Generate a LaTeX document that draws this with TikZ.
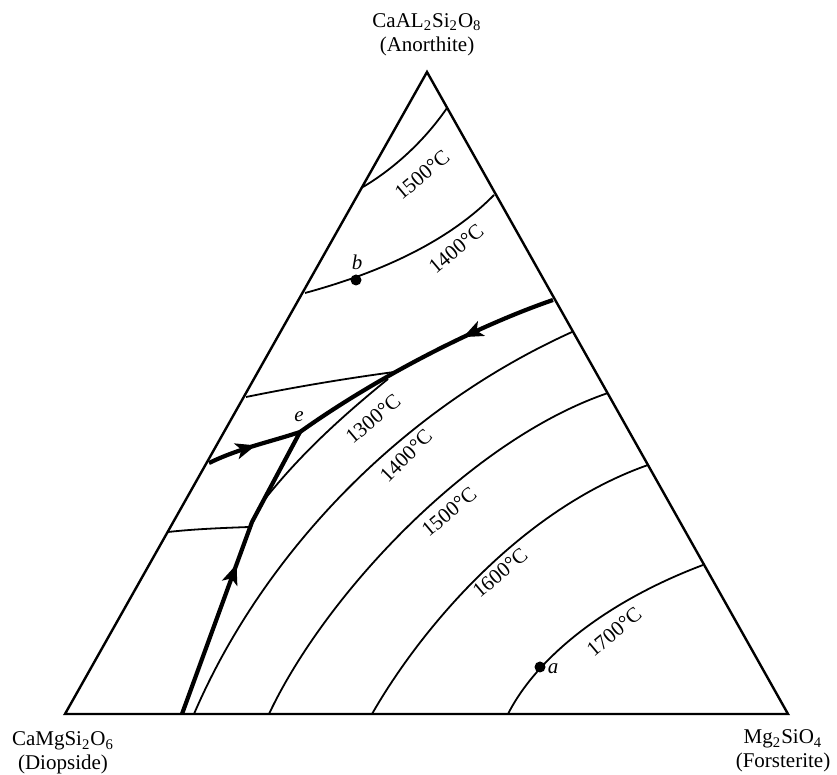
\documentclass[tikz,border=0pt]{standalone}
\usepackage{fontspec}
\setmainfont{Liberation Serif}
\usetikzlibrary{arrows.meta, decorations.markings}

\begin{document}
\begin{tikzpicture}[
    x=0.5pt, y=-0.5pt,
    edge/.style={line width=1.2pt, line join=miter},
    isotherm/.style={line width=0.9pt},
    cotectic/.style={line width=2.1pt},
    flowarrow/.style={postaction={decorate}, decoration={markings, mark=at position #1 with {\arrow{Stealth[length=10pt, width=8pt, inset=2.5pt]}}}},
    temp/.style={font=\fontsize{10.5}{12}\selectfont, rotate=40, inner sep=0pt},
    corner/.style={font=\fontsize{10.5}{12}\selectfont, align=center, inner sep=0pt},
    point/.style={circle, fill=black, inner sep=0pt, minimum size=5.5pt},
    ptlabel/.style={font=\fontsize{10.5}{12}\selectfont\itshape, inner sep=0pt}
]
    \useasboundingbox (0,0) rectangle (837,775);

    % Corners
    \coordinate (an) at (427,72);
    \coordinate (di) at (65,714);
    \coordinate (fo) at (788,714);
    \coordinate (e) at (300,432);

    \node[corner] (anlabel) at (427,35) {CaAL\textsubscript{2}Si\textsubscript{2}O\textsubscript{8}\\(Anorthite)};
    \node[corner] (dilabel) at (63,753) {CaMgSi\textsubscript{2}O\textsubscript{6}\\(Diopside)};
    \node[corner] (folabel) at (783,751) {Mg\textsubscript{2}SiO\textsubscript{4}\\(Forsterite)};

    % Triangle
    \draw[edge] (an) -- (di) -- (fo) -- cycle;

    % Anorthite field
    \draw[isotherm] (363,187) .. controls (395,168) and (425,140) .. (447,108);
    \draw[isotherm] (305,293) .. controls (360,278) and (440,250) .. (494,195);
    \draw[isotherm] (246,397) .. controls (300,386) and (350,378) .. (394,372);

    % Diopside field
    \draw[isotherm] (168,532) .. controls (195,529) and (222,528) .. (249,527);

    % Forsterite field
    \draw[isotherm] (265,499) .. controls (300,455) and (340,418) .. (388,379);
    \draw[isotherm] (194,714) .. controls (260,560) and (395,412) .. (572,332);
    \draw[isotherm] (269,714) .. controls (325,595) and (470,440) .. (608,393);
    \draw[isotherm] (372,714) .. controls (420,630) and (520,510) .. (648,465);
    \draw[isotherm] (508,714) .. controls (538,655) and (610,600) .. (703,565);

    % Boundary curves
    \draw[cotectic, flowarrow=0.34] (553,300) .. controls (480,325) and (380,375) .. (e);
    \draw[cotectic, flowarrow=0.52] (209,463) .. controls (240,448) and (270,442) .. (e);
    \draw[cotectic, flowarrow=0.52] (182,714) -- (252,522) -- (e);

    % Points
    \node[point] (b) at (356,280) {};
    \node[ptlabel] (blabel) at (357,262) {b};
    \node[ptlabel] (elabel) at (299,417) {e};
    \node[point] (a) at (540,667) {};
    \node[ptlabel] (alabel) at (553,669) {a};

    % Temperatures
    \node[temp] (t1500an) at (422,175) {1500°C};
    \node[temp] (t1400an) at (456,249) {1400°C};
    \node[temp] (t1300) at (373,419) {1300°C};
    \node[temp, rotate=5] (t1400) at (406,456) {1400°C};
    \node[temp] (t1500) at (449,512) {1500°C};
    \node[temp] (t1600) at (500,573) {1600°C};
    \node[temp] (t1700) at (614,632) {1700°C};

\end{tikzpicture}
\end{document}
